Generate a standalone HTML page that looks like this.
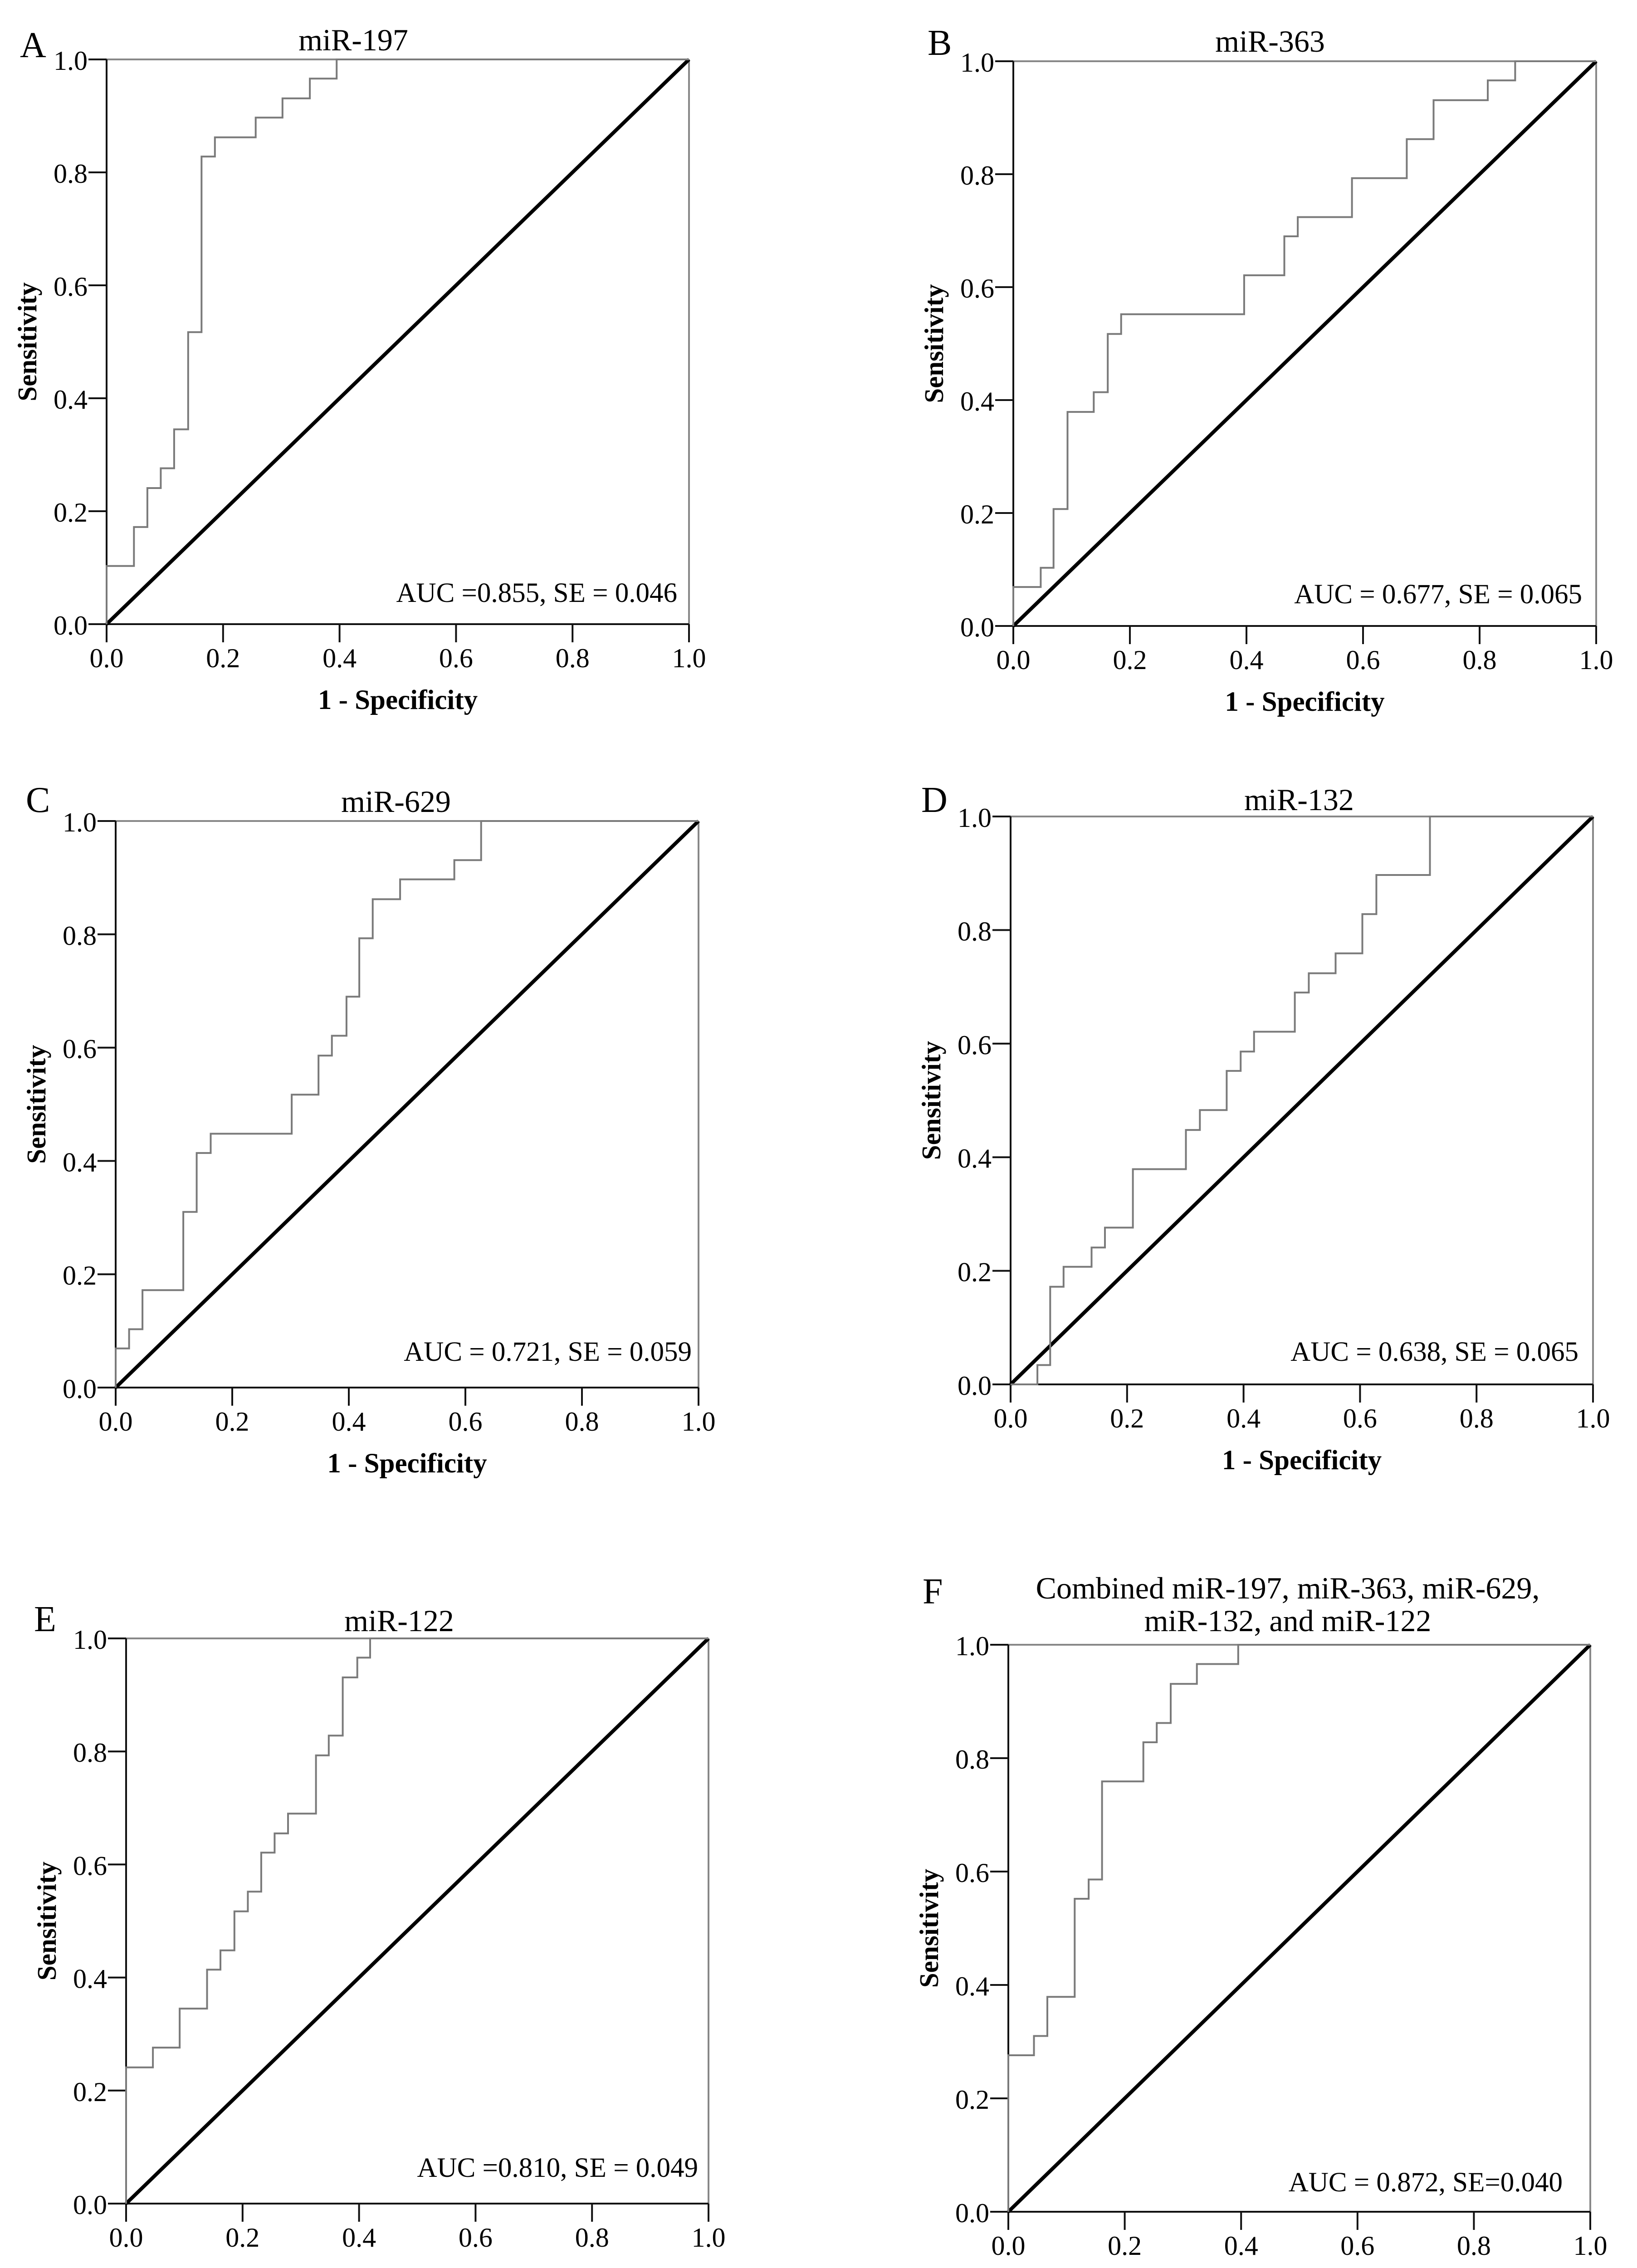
<!DOCTYPE html>
<html><head><meta charset="utf-8">
<style>
html,body{margin:0;padding:0;background:#fff;width:3609px;height:5106px;overflow:hidden;}
svg{display:block;position:absolute;left:0;top:0;}
text{font-family:"Liberation Serif",serif;fill:#000;}
</style></head>
<body>
<svg id="fig" width="3609" height="5106" viewBox="0 0 3609 5106" xmlns="http://www.w3.org/2000/svg">
<rect x="0" y="0" width="3609" height="5106" fill="#fff"/>
</svg>
<script>
// Shared axis data
const tickVals = [0, 0.2, 0.4, 0.6, 0.8, 1.0];
const tickLabels = ["0.0", "0.2", "0.4", "0.6", "0.8", "1.0"];

// Panel A: miR-197
const fprA = [0,0,0.047,0.047,0.070,0.070,0.093,0.093,0.116,0.116,0.140,0.140,0.163,0.163,0.186,0.186,0.256,0.256,0.302,0.302,0.349,0.349,0.395,0.395,1];
const tprA = [0,0.103,0.103,0.172,0.172,0.241,0.241,0.276,0.276,0.345,0.345,0.517,0.517,0.828,0.828,0.862,0.862,0.897,0.897,0.931,0.931,0.966,0.966,1,1];
// Panel B: miR-363
const fprB = [0,0,0.047,0.047,0.069,0.069,0.093,0.093,0.138,0.138,0.162,0.162,0.185,0.185,0.396,0.396,0.465,0.465,0.488,0.488,0.581,0.581,0.675,0.675,0.721,0.721,0.814,0.814,0.861,0.861,1];
const tprB = [0,0.069,0.069,0.103,0.103,0.207,0.207,0.379,0.379,0.414,0.414,0.517,0.517,0.552,0.552,0.621,0.621,0.690,0.690,0.724,0.724,0.793,0.793,0.862,0.862,0.931,0.931,0.966,0.966,1,1];
// Panel C: miR-629
const fprC = [0,0,0.023,0.023,0.046,0.046,0.116,0.116,0.139,0.139,0.163,0.163,0.302,0.302,0.348,0.348,0.371,0.371,0.396,0.396,0.418,0.418,0.441,0.441,0.488,0.488,0.581,0.581,0.627,0.627,1];
const tprC = [0,0.069,0.069,0.103,0.103,0.172,0.172,0.310,0.310,0.414,0.414,0.448,0.448,0.517,0.517,0.586,0.586,0.621,0.621,0.690,0.690,0.793,0.793,0.862,0.862,0.897,0.897,0.931,0.931,1,1];
// Panel D: miR-132
const fprD = [0,0.046,0.046,0.068,0.068,0.091,0.091,0.139,0.139,0.162,0.162,0.210,0.210,0.301,0.301,0.325,0.325,0.371,0.371,0.395,0.395,0.418,0.418,0.488,0.488,0.512,0.512,0.558,0.558,0.604,0.604,0.628,0.628,0.720,0.720,1];
const tprD = [0,0,0.034,0.034,0.172,0.172,0.207,0.207,0.241,0.241,0.276,0.276,0.379,0.379,0.448,0.448,0.483,0.483,0.552,0.552,0.586,0.586,0.621,0.621,0.690,0.690,0.724,0.724,0.759,0.759,0.828,0.828,0.897,0.897,1,1];
// Panel E: miR-122
const fprE = [0,0,0.046,0.046,0.092,0.092,0.139,0.139,0.162,0.162,0.186,0.186,0.209,0.209,0.232,0.232,0.255,0.255,0.278,0.278,0.326,0.326,0.348,0.348,0.372,0.372,0.397,0.397,0.419,0.419,1];
const tprE = [0,0.241,0.241,0.276,0.276,0.345,0.345,0.414,0.414,0.448,0.448,0.517,0.517,0.552,0.552,0.621,0.621,0.655,0.655,0.690,0.690,0.793,0.793,0.828,0.828,0.931,0.931,0.966,0.966,1,1];
// Panel F: combined
const fprF = [0,0,0.044,0.044,0.067,0.067,0.114,0.114,0.138,0.138,0.161,0.161,0.232,0.232,0.255,0.255,0.279,0.279,0.324,0.324,0.395,0.395,1];
const tprF = [0,0.276,0.276,0.310,0.310,0.379,0.379,0.552,0.552,0.586,0.586,0.759,0.759,0.828,0.828,0.862,0.862,0.931,0.931,0.966,0.966,1,1];

const NS = "http://www.w3.org/2000/svg";
const svg = document.getElementById('fig');
function mk(tag, attrs, parent) {
  const e = document.createElementNS(NS, tag);
  for (const k in attrs) e.setAttribute(k, attrs[k]);
  (parent || svg).appendChild(e);
  return e;
}

const panels = [
  {id:'a', L:'A', x0:235, x1:1519, y0:131, y1:1376, title:['miR-197'], tx:779, ty:[111], lx:44, ly:126, auc:'AUC =0.855, SE = 0.046', ar:26, ab:49, fpr:fprA, tpr:tprA},
  {id:'b', L:'B', x0:2234, x1:3519, y0:135, y1:1380, title:['miR-363'], tx:2800, ty:[114], lx:2045, ly:121, auc:'AUC = 0.677, SE = 0.065', ar:31, ab:50, fpr:fprB, tpr:tprB},
  {id:'c', L:'C', x0:255, x1:1540, y0:1810, y1:3059, title:['miR-629'], tx:873, ty:[1790], lx:57, ly:1790, auc:'AUC = 0.721, SE = 0.059', ar:15, ab:59, fpr:fprC, tpr:tprC},
  {id:'d', L:'D', x0:2228, x1:3512, y0:1800, y1:3052, title:['miR-132'], tx:2864, ty:[1786], lx:2031, ly:1790, auc:'AUC = 0.638, SE = 0.065', ar:32, ab:52, fpr:fprD, tpr:tprD},
  {id:'e', L:'E', x0:278, x1:1562, y0:3612, y1:4858, title:['miR-122'], tx:880, ty:[3596], lx:75, ly:3596, auc:'AUC =0.810, SE = 0.049', ar:23, ab:59, fpr:fprE, tpr:tprE},
  {id:'f', L:'F', x0:2223, x1:3506, y0:3626, y1:4876, title:['Combined miR-197, miR-363, miR-629,',' miR-132, and miR-122'], tx:2839, ty:[3524,3596], lx:2034, ly:3535, auc:'AUC = 0.872, SE=0.040', ar:61, ab:45, fpr:fprF, tpr:tprF}
];

panels.forEach(p => {
  const g = mk('g', {});
  
  
  const sx = v => p.x0 + v * (p.x1 - p.x0);
  const sy = v => p.y1 - v * (p.y1 - p.y0);

  const lt = mk('text', {x:p.lx, y:p.ly, 'font-size':80}, g);
  lt.textContent = p.L;
  
  

  p.title.forEach((t, i) => {
    const tt = mk('text', {x:p.tx, y:p.ty[i], 'font-size':68, 'text-anchor':'middle'}, g);
    tt.textContent = t;
    
    
  });

  const top = mk('line', {x1:p.x0, y1:p.y0, x2:p.x1, y2:p.y0, stroke:'#888', 'stroke-width':4}, g);
  
  
  const right = mk('line', {x1:p.x1, y1:p.y0, x2:p.x1, y2:p.y1, stroke:'#888', 'stroke-width':4}, g);
  
  
  const yax = mk('line', {x1:p.x0, y1:p.y0, x2:p.x0, y2:p.y1, stroke:'#111', 'stroke-width':4}, g);
  
  
  const xax = mk('line', {x1:p.x0, y1:p.y1, x2:p.x1, y2:p.y1, stroke:'#111', 'stroke-width':4}, g);
  
  

  tickVals.forEach((v, i) => {
    const ty = sy(v);
    const tk = mk('line', {x1:p.x0 - 40, y1:ty, x2:p.x0, y2:ty, stroke:'#111', 'stroke-width':4}, g);
    
    
    const tl = mk('text', {x:p.x0 - 42, y:ty + 23, 'font-size':60, 'text-anchor':'end'}, g);
    tl.textContent = tickLabels[i];
    
    
    const tx = sx(v);
    const tk2 = mk('line', {x1:tx, y1:p.y1, x2:tx, y2:p.y1 + 40, stroke:'#111', 'stroke-width':4}, g);
    
    
    const tl2 = mk('text', {x:tx, y:p.y1 + 95, 'font-size':60, 'text-anchor':'middle'}, g);
    tl2.textContent = tickLabels[i];
    
    
  });

  const xt = mk('text', {x:(p.x0 + p.x1) / 2, y:p.y1 + 187, 'font-size':61, 'font-weight':'bold', 'text-anchor':'middle'}, g);
  xt.textContent = '1 - Specificity';
  
  
  const cy = (p.y0 + p.y1) / 2, cx = p.x0 - 175;
  const yt = mk('text', {x:cx, y:cy, 'font-size':59, 'font-weight':'bold', 'text-anchor':'middle', 'dominant-baseline':'central', transform:'rotate(-90 ' + cx + ' ' + cy + ')'}, g);
  yt.textContent = 'Sensitivity';
  
  

  const dg = mk('line', {x1:sx(0), y1:sy(0), x2:sx(1), y2:sy(1), stroke:'#000', 'stroke-width':8}, g);
  
  

  const pts = p.fpr.map((f, i) => sx(f).toFixed(1) + ',' + sy(p.tpr[i]).toFixed(1)).join(' ');
  const cv = mk('polyline', {points:pts, fill:'none', stroke:'#7a7a7a', 'stroke-width':4}, g);
  
  

  const at = mk('text', {x:p.x1 - p.ar, y:p.y1 - p.ab, 'font-size':61, 'text-anchor':'end'}, g);
  at.textContent = p.auc;
  
  
});
</script>
</body></html>
